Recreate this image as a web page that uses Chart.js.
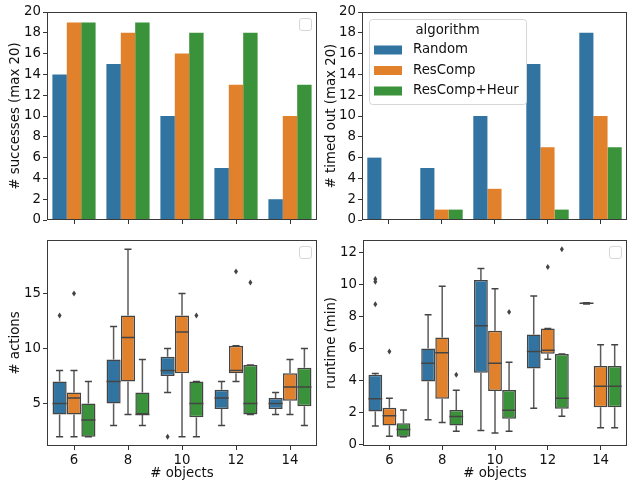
<!DOCTYPE html>
<html>
<head>
<meta charset="utf-8">
<script src="https://cdn.jsdelivr.net/npm/chart.js@4.4.1/dist/chart.umd.min.js"></script>
<style>
  body { margin: 0; background: #fff; width: 629px; height: 483px; position: relative; overflow: hidden; }
  canvas { position: absolute; }
</style>
</head>
<body>
<canvas id="succ" width="320" height="230" style="left:0;top:0"></canvas>
<canvas id="tout" width="309" height="230" style="left:320px;top:0"></canvas>
<canvas id="acts" width="320" height="253" style="left:0;top:230px"></canvas>
<canvas id="rtime" width="309" height="253" style="left:320px;top:230px"></canvas>
<script>
const categories = ['6', '8', '10', '12', '14'];
const algorithms = ['Random', 'ResComp', 'ResComp+Heur'];
const colors = ['#3274a1', '#e1812c', '#3a923a'];

const successesRandom = [14, 15, 10, 5, 2];
const successesResComp = [19, 18, 16, 13, 10];
const successesHeur = [19, 19, 18, 18, 13];

const timedOutRandom = [6, 5, 10, 15, 18];
const timedOutResComp = [0, 1, 3, 7, 10];
const timedOutHeur = [0, 1, 0, 1, 7];

const barTicks = [0, 2, 4, 6, 8, 10, 12, 14, 16, 18, 20];
const actionTicks = [5, 10, 15];
const runtimeTicks = [0, 2, 4, 6, 8, 10, 12];

// box stats: [low whisker, q1, median, q3, high whisker]
const actionsRandom = [[2, 4, 5, 7, 8], [3, 5, 7, 9, 12], [6, 7.5, 8, 9.25, 10], [3, 4.5, 5.5, 6.25, 7], [4, 4.5, 5, 5.5, 6]];
const actionsResComp = [[2, 4, 5.5, 6, 8], [4, 7, 11, 13, 19], [2, 7.75, 11.5, 13, 15], [7, 7.75, 8, 10.25, 10.25], [4, 5.25, 6.5, 7.75, 9]];
const actionsHeur = [[2, 2, 3.5, 5, 7], [3, 4, 4, 6, 9], [2, 3.75, 5, 7, 7], [4, 4, 5, 8.5, 8.5], [3, 4.75, 6.5, 8.25, 10]];
const actionsRandomOut = [[13], [], [2], [], []];
const actionsResCompOut = [[15], [], [], [17], []];
const actionsHeurOut = [[], [], [13], [16], []];

const runtimeRandom = [[1.15, 2.06, 2.85, 4.35, 4.43], [1.55, 3.94, 5.07, 6.0, 8.1], [0.87, 4.48, 7.42, 10.27, 10.99], [2.27, 4.74, 5.81, 6.87, 9.28], [8.78, 8.78, 8.82, 8.86, 8.86]];
const runtimeResComp = [[0.52, 1.18, 1.79, 2.29, 2.89], [1.38, 2.85, 5.73, 6.68, 9.88], [0.72, 3.34, 5.07, 7.11, 9.73], [5.32, 5.67, 5.88, 7.24, 7.24], [1.05, 2.33, 3.63, 4.91, 6.23]];
const runtimeHeur = [[0.49, 0.49, 0.93, 1.32, 2.16], [0.82, 1.18, 1.75, 2.16, 3.38], [0.82, 1.61, 2.14, 3.40, 5.13], [1.77, 2.23, 2.89, 5.65, 5.65], [1.05, 2.33, 3.63, 4.91, 6.23]];
const runtimeRandomOut = [[10.33, 10.16, 8.76], [], [], [], []];
const runtimeResCompOut = [[5.81], [], [], [11.09], []];
const runtimeHeurOut = [[], [4.35], [8.27], [12.19], []];

Chart.defaults.font.family = 'DejaVu Sans';
Chart.defaults.font.size = 13.3;
Chart.defaults.color = '#111';
Chart.defaults.animation = false;

const lineGray = '#444';
const whiskerGray = '#5c5c5c';

// axes frame, like matplotlib spines
const frame = {
    id: 'frame',
    afterDraw(chart) {
        const a = chart.chartArea, ctx = chart.ctx;
        ctx.save();
        ctx.strokeStyle = '#3a3a3a';
        ctx.lineWidth = 1;
        ctx.strokeRect(Math.round(a.left) + 0.5, Math.round(a.top) + 0.5,
            Math.round(a.right - a.left) - 1, Math.round(a.bottom - a.top) - 1);
        ctx.restore();
    }
};

function roundBox(ctx, x, y, w, h, r) {
    ctx.beginPath();
    ctx.moveTo(x + r, y);
    ctx.arcTo(x + w, y, x + w, y + h, r);
    ctx.arcTo(x + w, y + h, x, y + h, r);
    ctx.arcTo(x, y + h, x, y, r);
    ctx.arcTo(x, y, x + w, y, r);
    ctx.closePath();
}

// the empty legend box seaborn leaves behind
const emptyLegend = {
    id: 'emptyLegend',
    afterDraw(chart) {
        const a = chart.chartArea, ctx = chart.ctx;
        ctx.save();
        ctx.fillStyle = 'rgba(255,255,255,0.8)';
        ctx.strokeStyle = '#d6d6d6';
        ctx.lineWidth = 1;
        roundBox(ctx, a.right - 17.5, a.top + 6.5, 12, 12, 2.5);
        ctx.fill();
        ctx.stroke();
        ctx.restore();
    }
};

const algoLegend = {
    id: 'algoLegend',
    afterDraw(chart) {
        const a = chart.chartArea, ctx = chart.ctx;
        const x = a.left + 7, y = a.top + 7;
        ctx.save();
        ctx.fillStyle = 'rgba(255,255,255,0.8)';
        ctx.strokeStyle = '#d6d6d6';
        ctx.lineWidth = 1;
        roundBox(ctx, x + 0.5, y + 0.5, 157, 85, 3);
        ctx.fill();
        ctx.stroke();
        ctx.font = '13.3px "DejaVu Sans"';
        ctx.fillStyle = '#111';
        ctx.textBaseline = 'middle';
        ctx.textAlign = 'center';
        ctx.fillText('algorithm', x + 78.5, y + 12);
        ctx.textAlign = 'left';
        chart.data.datasets.forEach((ds, i) => {
            const cy = y + 31 + i * 20.5;
            ctx.fillStyle = ds.backgroundColor;
            ctx.fillRect(x + 5, cy - 4.5, 28, 9);
            ctx.fillStyle = '#111';
            ctx.fillText(ds.label, x + 44, cy);
        });
        ctx.restore();
    }
};

// whiskers, medians and fliers on top of the floating-bar boxes
const boxExtras = {
    id: 'boxExtras',
    afterDatasetsDraw(chart) {
        const ctx = chart.ctx, ys = chart.scales.y;
        const py = v => ys.getPixelForValue(v);
        chart.data.datasets.forEach((ds, i) => {
            const meta = chart.getDatasetMeta(i);
            meta.data.forEach((bar, j) => {
                const [lo, q1, med, q3, hi] = ds.stats[j];
                const x = bar.x, hw = bar.width / 2, cw = hw / 2;
                ctx.save();
                ctx.lineWidth = 1.5;
                ctx.strokeStyle = whiskerGray;
                ctx.beginPath();
                if (hi > q3) {
                    ctx.moveTo(x, py(q3)); ctx.lineTo(x, py(hi));
                }
                if (lo < q1) {
                    ctx.moveTo(x, py(q1)); ctx.lineTo(x, py(lo));
                }
                ctx.stroke();
                ctx.strokeStyle = lineGray;
                ctx.beginPath();
                ctx.moveTo(x - cw, py(hi)); ctx.lineTo(x + cw, py(hi));
                ctx.moveTo(x - cw, py(lo)); ctx.lineTo(x + cw, py(lo));
                ctx.moveTo(x - hw, py(med)); ctx.lineTo(x + hw, py(med));
                ctx.stroke();
                ctx.fillStyle = lineGray;
                ds.outliers[j].forEach(v => {
                    const oy = py(v);
                    ctx.beginPath();
                    ctx.moveTo(x, oy - 3); ctx.lineTo(x + 2, oy);
                    ctx.lineTo(x, oy + 3); ctx.lineTo(x - 2, oy);
                    ctx.closePath();
                    ctx.fill();
                });
                ctx.restore();
            });
        });
    }
};

function tickGrid() {
    return { display: true, drawOnChartArea: false, drawTicks: true, tickLength: 4, color: '#333', offset: false };
}

function barChart(id, series, title, yWidth, titlePad, extraPlugins) {
    new Chart(document.getElementById(id), {
        type: 'bar',
        data: {
            labels: categories,
            datasets: series.map((s, i) => ({
                label: algorithms[i],
                data: s,
                backgroundColor: colors[i],
                borderWidth: 0,
                categoryPercentage: 0.8,
                barPercentage: 1.0
            }))
        },
        options: {
            responsive: false,
            layout: { padding: { top: 12, right: id === 'succ' ? 3 : 2, left: 0, bottom: 0 } },
            plugins: { legend: { display: false }, tooltip: { enabled: false } },
            scales: {
                x: {
                    grid: tickGrid(),
                    border: { display: false },
                    ticks: { display: false },
                    afterFit: s => { s.height = 9; }
                },
                y: {
                    min: 0, max: 20,
                    grid: tickGrid(),
                    border: { display: false },
                    ticks: { padding: 2 },
                    afterBuildTicks: s => { s.ticks = barTicks.map(v => ({ value: v })); },
                    afterFit: s => { s.width = yWidth; },
                    title: { display: true, text: title, padding: { top: titlePad, bottom: 0 } }
                }
            }
        },
        plugins: [frame].concat(extraPlugins)
    });
}

function boxChart(id, stats, outliers, ticks, ymin, ymax, title, yWidth, titlePad) {
    new Chart(document.getElementById(id), {
        type: 'bar',
        data: {
            labels: categories,
            datasets: stats.map((s, i) => ({
                label: algorithms[i],
                data: s.map(b => [b[1], b[3]]),
                stats: s,
                outliers: outliers[i],
                backgroundColor: colors[i],
                borderColor: lineGray,
                borderWidth: 1.5,
                borderSkipped: false,
                categoryPercentage: 0.8,
                barPercentage: 0.98
            }))
        },
        options: {
            responsive: false,
            layout: { padding: { top: 8, right: id === 'acts' ? 3 : 2, left: 0, bottom: 0 } },
            plugins: { legend: { display: false }, tooltip: { enabled: false } },
            scales: {
                x: {
                    grid: tickGrid(),
                    border: { display: false },
                    ticks: { padding: 3 },
                    afterFit: s => { s.height = 37; },
                    title: { display: true, text: '# objects', padding: { top: 0, bottom: 1 } }
                },
                y: {
                    min: ymin, max: ymax,
                    grid: tickGrid(),
                    border: { display: false },
                    ticks: { padding: 2 },
                    afterBuildTicks: s => { s.ticks = ticks.map(v => ({ value: v })); },
                    afterFit: s => { s.width = yWidth; },
                    title: { display: true, text: title, padding: { top: titlePad, bottom: 0 } }
                }
            }
        },
        plugins: [boxExtras, frame, emptyLegend]
    });
}

barChart('succ', [successesRandom, successesResComp, successesHeur], '# successes (max 20)', 47, 8, [emptyLegend]);
barChart('tout', [timedOutRandom, timedOutResComp, timedOutHeur], '# timed out (max 20)', 42, 4, [algoLegend]);
boxChart('acts', [actionsRandom, actionsResComp, actionsHeur],
    [actionsRandomOut, actionsResCompOut, actionsHeurOut], actionTicks, 1.15, 19.85, '# actions', 47, 8);
boxChart('rtime', [runtimeRandom, runtimeResComp, runtimeHeur],
    [runtimeRandomOut, runtimeResCompOut, runtimeHeurOut], runtimeTicks, -0.095, 12.775, 'runtime (min)', 43, 4);
</script>
</body>
</html>
